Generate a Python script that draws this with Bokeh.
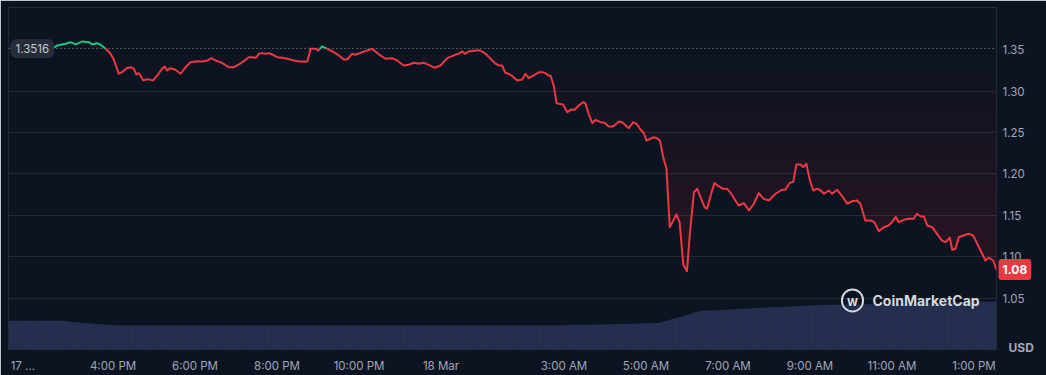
import numpy as np
from bokeh.plotting import figure
from bokeh.layouts import row
from bokeh.models import Range1d, FixedTicker, Span, Label, NumeralTickFormatter
from bokeh.embed import file_html
from bokeh.resources import INLINE

# ---------------- data (hours relative to 18 Mar 00:00, price in USD) ----------------
times = [-10.50, -10.01, -9.65, -9.46, -9.36, -9.16, -9.04, -8.91, -8.75, -8.59, -8.51, -8.39, -8.30,
         -8.18, -8.06, -7.98, -7.86, -7.78, -7.67, -7.57, -7.49, -7.43, -7.37, -7.26, -7.17, -7.02,
         -6.92, -6.82, -6.74, -6.68, -6.60, -6.48, -6.35, -6.23, -6.11, -5.95, -5.82, -5.70, -5.60,
         -5.50, -5.38, -5.28, -5.18, -5.05, -4.93, -4.81, -4.69, -4.60, -4.52, -4.44, -4.36, -4.28,
         -4.20, -4.12, -4.00, -3.87, -3.75, -3.63, -3.47, -3.26, -3.18, -3.06, -3.00, -2.90, -2.78,
         -2.65, -2.49, -2.37, -2.29, -2.17, -2.09, -1.92, -1.80, -1.68, -1.60, -1.48, -1.35, -1.19,
         -1.07, -0.91, -0.79, -0.66, -0.54, -0.42, -0.30, -0.15, -0.01, 0.15, 0.27, 0.42, 0.52, 0.58,
         0.68, 0.84, 0.96, 1.09, 1.21, 1.33, 1.41, 1.49, 1.57, 1.65, 1.74, 1.86, 1.98, 2.06, 2.14,
         2.26, 2.39, 2.47, 2.55, 2.61, 2.67, 2.75, 2.82, 2.87, 2.98, 3.08, 3.18, 3.26, 3.36, 3.47,
         3.52, 3.60, 3.69, 3.77, 3.89, 3.99, 4.09, 4.20, 4.34, 4.42, 4.58, 4.69, 4.77, 4.87, 4.95,
         5.01, 5.11, 5.19, 5.27, 5.34, 5.42, 5.50, 5.58, 5.66, 5.74, 5.82, 5.91, 6.00, 6.07, 6.17,
         6.25, 6.33, 6.43, 6.49, 6.59, 6.67, 6.78, 6.88, 6.98, 7.08, 7.18, 7.26, 7.39, 7.51, 7.63,
         7.75, 7.87, 8.00, 8.16, 8.32, 8.40, 8.51, 8.59, 8.67, 8.77, 8.84, 8.91, 9.00, 9.08, 9.16,
         9.24, 9.34, 9.46, 9.54, 9.66, 9.79, 9.91, 10.03, 10.15, 10.23, 10.35, 10.48, 10.57, 10.68,
         10.80, 10.92, 11.00, 11.09, 11.17, 11.29, 11.41, 11.53, 11.61, 11.70, 11.78, 11.86, 11.98,
         12.10, 12.22, 12.30, 12.41, 12.47, 12.55, 12.63, 12.75, 12.87, 12.98, 13.08, 13.20, 13.28,
         13.36, 13.47, 13.55]
prices = [1.3516, 1.3527, 1.3521, 1.3518, 1.3552, 1.3572, 1.3591, 1.3564, 1.3600, 1.3591, 1.3564, 1.3579, 1.3560,
          1.3512, 1.3451, 1.3379, 1.3210, 1.3229, 1.3277, 1.3289, 1.3270, 1.3201, 1.3217, 1.3129, 1.3145, 1.3129,
          1.3189, 1.3262, 1.3298, 1.3250, 1.3277, 1.3258, 1.3210, 1.3289, 1.3350, 1.3362, 1.3358, 1.3370, 1.3398,
          1.3370, 1.3350, 1.3322, 1.3289, 1.3289, 1.3322, 1.3362, 1.3410, 1.3410, 1.3403, 1.3451, 1.3459, 1.3451,
          1.3459, 1.3443, 1.3410, 1.3403, 1.3391, 1.3376, 1.3358, 1.3358, 1.3512, 1.3512, 1.3491, 1.3539, 1.3512,
          1.3479, 1.3431, 1.3382, 1.3382, 1.3451, 1.3439, 1.3471, 1.3491, 1.3510, 1.3479, 1.3431, 1.3391, 1.3398,
          1.3370, 1.3310, 1.3318, 1.3343, 1.3331, 1.3343, 1.3318, 1.3282, 1.3310, 1.3398, 1.3422, 1.3451, 1.3479, 1.3451,
          1.3479, 1.3491, 1.3491, 1.3451, 1.3391, 1.3331, 1.3310, 1.3310, 1.3222, 1.3210, 1.3181, 1.3129, 1.3141, 1.3210, 1.3157,
          1.3189, 1.3229, 1.3229, 1.3217, 1.3189, 1.3189, 1.3068, 1.2855, 1.2847, 1.2839, 1.2746, 1.2779, 1.2775, 1.2827, 1.2867,
          1.2855, 1.2727, 1.2613, 1.2654, 1.2625, 1.2618, 1.2573, 1.2573, 1.2634, 1.2625, 1.2553, 1.2625, 1.2606, 1.2533, 1.2492,
          1.2404, 1.2425, 1.2444, 1.2432, 1.2404, 1.2203, 1.2062, 1.1357, 1.1430, 1.1511, 1.1418, 1.0907, 1.0826, 1.1277, 1.1780,
          1.1821, 1.1719, 1.1599, 1.1579, 1.1761, 1.1889, 1.1849, 1.1821, 1.1821, 1.1761, 1.1680, 1.1619, 1.1647, 1.1559, 1.1637,
          1.1768, 1.1700, 1.1680, 1.1761, 1.1809, 1.1809, 1.1893, 1.1901, 1.2114, 1.2114, 1.2082, 1.2123, 1.1921, 1.1800, 1.1821,
          1.1809, 1.1761, 1.1800, 1.1761, 1.1809, 1.1728, 1.1640, 1.1671, 1.1680, 1.1640, 1.1438, 1.1438, 1.1418, 1.1309,
          1.1357, 1.1378, 1.1418, 1.1478, 1.1418, 1.1446, 1.1459, 1.1459, 1.1519, 1.1486, 1.1486, 1.1378, 1.1357,
          1.1277, 1.1196, 1.1176, 1.1229, 1.1084, 1.1096, 1.1236, 1.1257, 1.1277, 1.1257, 1.1157, 1.1036, 1.0955,
          1.0988, 1.0955, 1.0845]

vol_times = [-10.55, -9.28, -8.80, -7.95, 2.80, 4.50, 5.30, 5.85, 6.33, 6.90, 8.00, 9.33, 11.50, 13.55]
vol_values = [59, 59, 55, 49, 49, 52, 54, 67, 79, 81, 86, 91, 94, 98]  # 24h volume, M USD

ref_price = 1.3516
ref_text = "1.3516"
last_text = "1.08"
x_ticks = [-10.2, -8, -6, -4, -2, 0, 3, 5, 7, 9, 11, 13]
x_labels = ["17 ...", "4:00 PM", "6:00 PM", "8:00 PM", "10:00 PM", "18 Mar",
            "3:00 AM", "5:00 AM", "7:00 AM", "9:00 AM", "11:00 AM", "1:00 PM"]
y_ticks = [1.05, 1.10, 1.15, 1.20, 1.25, 1.30, 1.35]

# ---------------- styling ----------------
BG = "#0d1421"
GRID = "#222836"
RED = "#ea3943"
GREEN = "#16c784"
LABEL = "#a1a7bb"
FONT = "Inter"
TOP, BOTTOM = 7, 26
H = 375

y0, y1 = 0.988, 1.401
y_range = Range1d(y0, y1)

p = figure(width=1046, height=H,
           x_range=Range1d(-10.55, 13.55), y_range=y_range,
           output_backend="svg", toolbar_location=None, y_axis_location="right",
           min_border_left=8, min_border_right=50, min_border_top=TOP, min_border_bottom=BOTTOM,
           background_fill_color=BG, border_fill_color=BG,
           outline_line_color=GRID)

p.extra_y_ranges = {"vol": Range1d(0, 700)}

p.xgrid.visible = False
p.ygrid.ticker = FixedTicker(ticks=[t for t in y_ticks if t < 1.34])
p.ygrid.grid_line_color = GRID

for ax in (p.xaxis[0], p.yaxis[0]):
    ax.axis_line_color = None
    ax.major_tick_line_color = None
    ax.minor_tick_line_color = None
    ax.major_tick_out = 0
    ax.major_tick_in = 0
    ax.minor_tick_out = 0
    ax.major_label_text_color = LABEL
    ax.major_label_text_font = FONT
    ax.major_label_text_font_size = "11.5px"

p.xaxis.ticker = FixedTicker(ticks=x_ticks)
p.xaxis.major_label_overrides = {t: l for t, l in zip(x_ticks, x_labels)}
p.xaxis.major_label_standoff = 9
p.yaxis.ticker = FixedTicker(ticks=y_ticks)
p.yaxis.formatter = NumeralTickFormatter(format="0.00")
p.yaxis.major_label_standoff = 6

# volume (striped bars look)
p.varea(x=vol_times, y1=0, y2=vol_values, y_range_name="vol", fill_color="#263152",
        hatch_pattern="vertical_line", hatch_color="#1d2542", hatch_alpha=0.7,
        hatch_scale=3.4, hatch_weight=1)

# gradient fill between baseline and line (stacked translucent layers, denser lower down)
t = np.array(times)
pr = np.array(prices)
levels = np.linspace(ref_price, y0, 40)[1:]
for lv in levels:
    p.varea(x=t, y1=np.minimum(pr, lv), y2=lv, fill_color="#e0404a", fill_alpha=0.0085)

# baseline
base = Span(location=ref_price, dimension="width", line_color="#9aa0ad",
            line_dash="1 3", line_width=1, level="underlay")
p.add_layout(base)

# split line into green (above) and red (below) segments
def split_segments(xs, ys, b):
    green, red = [], []
    cx, cy = [xs[0]], [ys[0]]
    up = ys[0] >= b
    for i in range(1, len(xs)):
        now = ys[i] >= b
        if now != up:
            f = (b - ys[i - 1]) / (ys[i] - ys[i - 1])
            tx = xs[i - 1] + f * (xs[i] - xs[i - 1])
            cx.append(tx); cy.append(b)
            (green if up else red).append((cx, cy))
            cx, cy = [tx], [b]
            up = now
        cx.append(xs[i]); cy.append(ys[i])
    (green if up else red).append((cx, cy))
    return green, red

g_segs, r_segs = split_segments(times, prices, ref_price)
p.multi_line(xs=[s[0] for s in r_segs], ys=[s[1] for s in r_segs], line_color=RED,
             line_width=2, line_join="round")
p.multi_line(xs=[s[0] for s in g_segs], ys=[s[1] for s in g_segs], line_color=GREEN,
             line_width=2, line_join="round")

# reference badge
p.add_layout(Label(x=2, x_units="screen", y=ref_price, text=ref_text,
                   text_align="left", text_baseline="middle",
                   text_font=FONT, text_font_size="11.5px", text_color="#c3c8d2",
                   background_fill_color="#262c3a", border_radius=6,
                   padding=dict(left=5, right=5, top=5, bottom=5)))

# watermark
p.add_layout(Label(x=844, x_units="screen", y=49, y_units="screen", text="w",
                   text_align="center", text_baseline="middle",
                   text_font=FONT, text_font_size="13px", text_font_style="bold",
                   text_color="#d5d8de",
                   border_line_color="#d5d8de", border_line_width=2, border_radius=11,
                   padding=dict(left=5, right=5, top=3, bottom=3)))
p.add_layout(Label(x=864, x_units="screen", y=49, y_units="screen", text="CoinMarketCap",
                   text_align="left", text_baseline="middle",
                   text_font=FONT, text_font_size="14px", text_font_style="bold",
                   text_color="#d5d8de"))

# transparent overlay strip on the right side (price badge + currency), same vertical scale
q = figure(width=50, height=H, x_range=Range1d(0, 50),
           output_backend="svg", toolbar_location=None,
           x_axis_type=None, y_axis_type=None,
           min_border_left=0, min_border_right=0, min_border_top=TOP,
           background_fill_color=None, border_fill_color=None, outline_line_color=None,
           margin=(0, 0, 0, -50))
q_bottom = BOTTOM
try:
    q.frame_align = False
    p.frame_align = False
    q_bottom = 0
except Exception:
    q_bottom = BOTTOM
q.min_border_bottom = q_bottom
px_per_unit = (H - TOP - BOTTOM) / (y1 - y0)
q.y_range = Range1d(y0 - (BOTTOM - q_bottom) / px_per_unit, y1)
q.grid.visible = False
q.add_layout(Label(x=2, x_units="screen", y=prices[-1], text=last_text,
                   text_align="left", text_baseline="middle",
                   text_font=FONT, text_font_size="12px", text_font_style="bold",
                   text_color="#ffffff",
                   background_fill_color=RED, border_radius=3,
                   padding=dict(left=4, right=4, top=6, bottom=6)))
q.add_layout(Label(x=12, x_units="screen", y=BOTTOM - q_bottom + 2.5, y_units="screen", text="USD",
                   text_align="left", text_baseline="middle",
                   text_font=FONT, text_font_size="12px", text_font_style="bold",
                   text_color=LABEL))

layout = row(p, q, spacing=0)
open("out.html", "w").write(file_html(layout, INLINE))
